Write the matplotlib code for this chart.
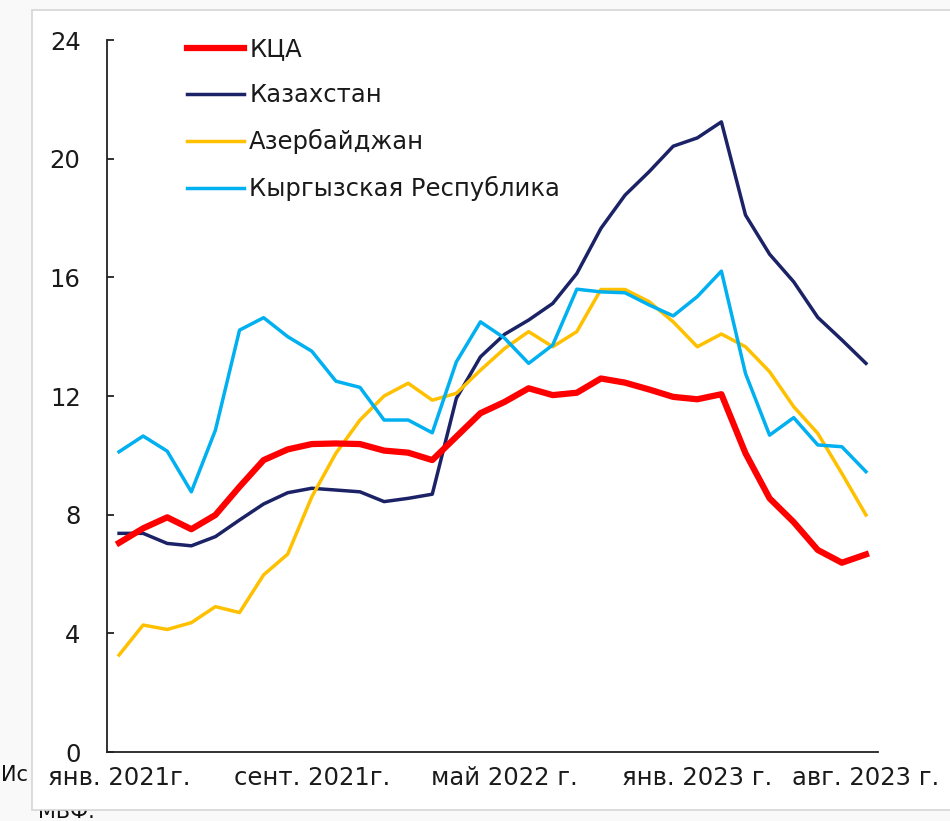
import matplotlib
matplotlib.use("Agg")
import matplotlib.pyplot as plt
from matplotlib.patches import Rectangle
import numpy as np

plt.rcParams['font.family'] = ['DejaVu Sans']

months = list(range(32))  # янв. 2021 .. авг. 2023
tick_pos = [0, 8, 16, 24, 31]
tick_labels = ["янв. 2021г.", "сент. 2021г.", "май 2022 г.", "янв. 2023 г.", "авг. 2023 г."]

kca = [7.05, 7.54, 7.91, 7.51, 7.99, 8.94, 9.84, 10.20, 10.38, 10.40, 10.38, 10.16,
       10.09, 9.84, 10.63, 11.42, 11.80, 12.26, 12.03, 12.11, 12.59, 12.45, 12.22, 11.97,
       11.89, 12.06, 10.07, 8.55, 7.75, 6.81, 6.38, 6.66]
kaz = [7.37, 7.37, 7.03, 6.95, 7.26, 7.82, 8.36, 8.74, 8.89, 8.83, 8.77, 8.44,
       8.55, 8.69, 11.92, 13.32, 14.08, 14.56, 15.12, 16.13, 17.65, 18.77, 19.56, 20.42,
       20.70, 21.24, 18.10, 16.78, 15.85, 14.65, 13.89, 13.10]
aze = [3.27, 4.28, 4.13, 4.36, 4.90, 4.70, 5.97, 6.67, 8.60, 10.07, 11.19, 12.00,
       12.43, 11.86, 12.09, 12.87, 13.60, 14.17, 13.66, 14.17, 15.59, 15.59, 15.18, 14.50,
       13.66, 14.09, 13.66, 12.82, 11.64, 10.74, 9.39, 7.99]
kgz = [10.12, 10.65, 10.14, 8.77, 10.85, 14.22, 14.64, 14.00, 13.51, 12.50, 12.29, 11.19,
       11.19, 10.76, 13.15, 14.50, 13.95, 13.10, 13.72, 15.60, 15.51, 15.48, 15.07, 14.70,
       15.35, 16.21, 12.76, 10.68, 11.27, 10.35, 10.29, 9.45]

fig = plt.figure(figsize=(9.5, 8.21), dpi=100, facecolor='#f9f9f9')

# partially hidden source note behind the chart frame
fig.text(0.001, 1 - 775 / 821, "Ис", fontsize=15, color='#111111', va='center', ha='left', zorder=1)
fig.text(0.040, 1 - 818 / 821, "МВФ.", fontsize=15, color='#111111', va='baseline', ha='left', zorder=1)

frame = Rectangle((32 / 950, 1 - 810 / 821), (970 - 32) / 950, (810 - 10) / 821,
                  transform=fig.transFigure, facecolor='white', edgecolor='#d6d6d6',
                  linewidth=1.2, zorder=2)
fig.patches.append(frame)

ax = fig.add_axes([107 / 950, 1 - 752 / 821, 771 / 950, 712 / 821])
ax.set_zorder(5)
ax.set_facecolor('none')

ax.plot(months, kca, color='#FF0000', lw=4.5, label='КЦА', solid_joinstyle='round', zorder=5)
ax.plot(months, kaz, color='#1B2266', lw=2.5, label='Казахстан', zorder=3)
ax.plot(months, aze, color='#FFC000', lw=2.5, label='Азербайджан', zorder=4)
ax.plot(months, kgz, color='#00B0F0', lw=2.5, label='Кыргызская Республика', zorder=4)

ax.set_xlim(-0.5, 31.5)
ax.set_ylim(0, 24)
ax.set_yticks([0, 4, 8, 12, 16, 20, 24])
ax.set_xticks(tick_pos)
ax.set_xticklabels(tick_labels)

for s in ['top', 'right']:
    ax.spines[s].set_visible(False)
for s in ['left', 'bottom']:
    ax.spines[s].set_color('#222222')
    ax.spines[s].set_linewidth(1.3)

ax.tick_params(axis='y', direction='in', length=5, width=1.3, color='#222222',
               labelsize=17.5, pad=19, labelcolor='#1a1a1a')
ax.tick_params(axis='x', length=0, labelsize=17.5, pad=10, labelcolor='#1a1a1a')

leg = ax.legend(loc='upper left', bbox_to_anchor=(0.104, 1.004), frameon=False,
                fontsize=17.5, handlelength=2.35, handletextpad=0.2, labelspacing=0.9,
                borderaxespad=0, borderpad=0)
for t in leg.get_texts():
    t.set_color('#1a1a1a')

fig.savefig('out.png', dpi=100, facecolor=fig.get_facecolor())
